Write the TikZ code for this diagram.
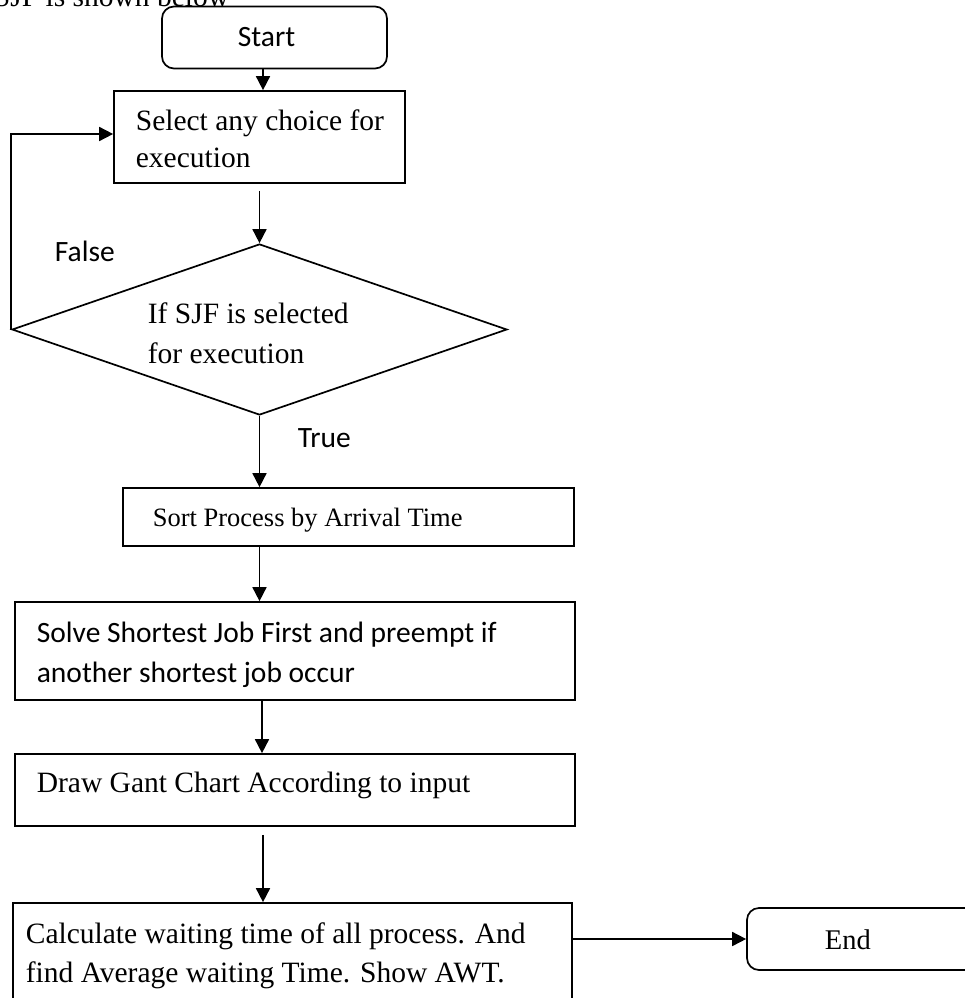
\documentclass[tikz,border=0pt]{standalone}
\usepackage{fontspec}
\setmainfont{Liberation Serif}
\newfontfamily\carl{Carlito}
\usetikzlibrary{shapes.geometric,arrows.meta}
\begin{document}
\begin{tikzpicture}[x=1pt,y=-1pt,
  line width=1.7pt,
  box/.style={draw, rectangle, inner sep=0pt},
  term/.style={draw, rectangle, rounded corners=12pt, inner sep=0pt},
  decision/.style={draw, diamond, inner sep=0pt},
  serif/.style={inner sep=0pt, anchor=base west, font=\fontsize{29.5}{35}\selectfont},
  sans/.style={inner sep=0pt, anchor=base west, font=\carl\fontsize{29.5}{35}\selectfont},
  flow/.style={-{Triangle[length=14pt,width=14pt]}},
]
\useasboundingbox (0,0) rectangle (964,998);

% running text above the chart
\node[serif, anchor=base east] (intro) at (230,7) {SJF is shown below};

% shapes
\node[term, minimum width=225pt, minimum height=62pt] (start) at (274.5,37.5) {};
\node[box, minimum width=291pt, minimum height=92pt] (select) at (259.5,137) {};
\node[decision, minimum width=495pt, minimum height=171pt] (dec) at (259.5,329.5) {};
\node[box, minimum width=451pt, minimum height=58pt] (sort) at (348.5,517) {};
\node[box, minimum width=560pt, minimum height=98pt] (solve) at (295,651) {};
\node[box, minimum width=560pt, minimum height=72pt] (gantt) at (295,790) {};
\node[box, minimum width=559pt, minimum height=120pt] (calc) at (292.5,963) {};
\node[term, minimum width=260pt, minimum height=62pt] (end) at (877,939) {};

% texts
\node[sans] (startT) at (237,47) {Start};
\node[serif] (selectA) at (135,130) {Select any choice for};
\node[serif] (selectB) at (135,167) {execution};
\node[serif] (decA) at (147,323) {If SJF is selected};
\node[serif] (decB) at (147,363) {for execution};
\node[serif, font=\fontsize{26.5}{32}\selectfont] (sortT) at (152,526) {Sort Process by Arrival Time};
\node[sans] (solveA) at (36,642) {Solve Shortest Job First and preempt if};
\node[sans] (solveB) at (36,682) {another shortest job occur};
\node[serif] (ganttT) at (36,792) {Draw Gant Chart According to input};
\node[serif] (calcA) at (25,943) {Calculate waiting time of all process. And};
\node[serif] (calcB) at (25,982) {find Average waiting Time. Show AWT.};
\node[serif, font=\fontsize{28.5}{34}\selectfont] (endT) at (824,949) {End};
\node[sans] (falseT) at (54,261) {False};
\node[sans] (trueT) at (297,447) {True};

% connectors
\coordinate (c1) at (263,0);
\coordinate (c2) at (262,0);
\draw[flow] (start.south -| c1) -- (select.north -| c1);
\draw[flow] ([yshift=-7pt]select.south -| dec.north) -- (dec.north);
\draw[flow] (dec.west) |- ([yshift=3pt]select.west);
\draw[flow] (dec.south) -- (dec.south |- sort.north);
\draw[flow] (sort.south -| dec.south) -- (solve.north -| dec.south);
\draw[flow] (solve.south -| c2) -- (gantt.north -| c2);
\draw[flow] ([yshift=-8pt]gantt.south -| c1) -- (calc.north -| c1);
\draw[flow] (calc.east |- end.west) -- (end.west);
\end{tikzpicture}
\end{document}
